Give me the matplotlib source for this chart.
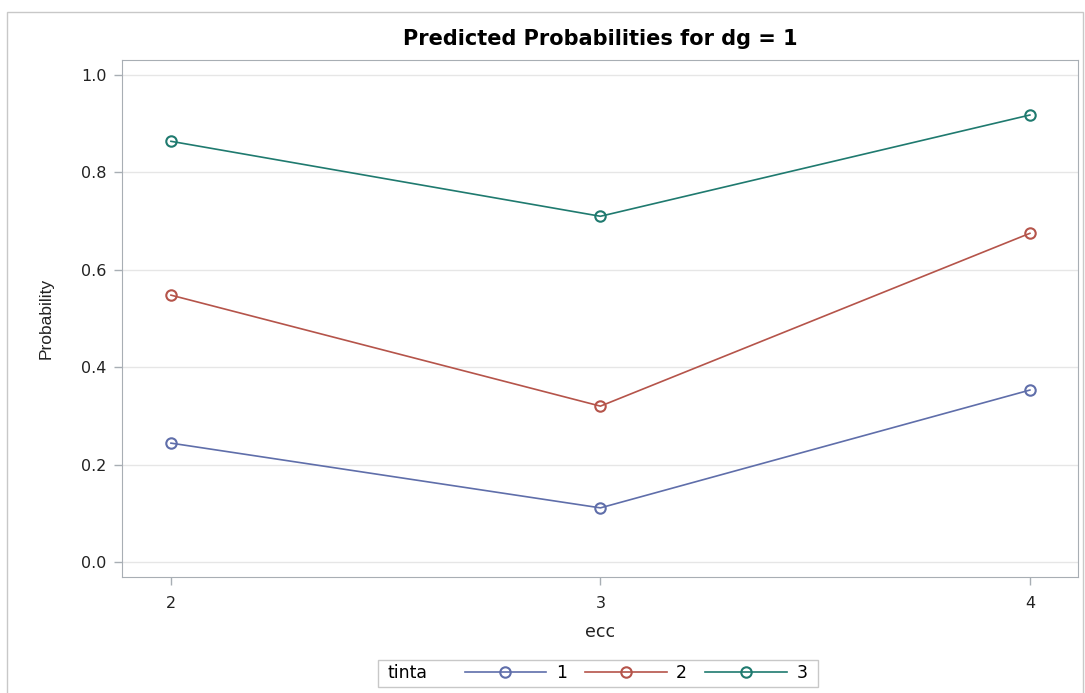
import matplotlib.pyplot as plt
from matplotlib.patches import Rectangle

plt.rcParams['font.family'] = ['DejaVu Sans']

# data
ecc = [2, 3, 4]
tinta_names = ['1', '2', '3']
prob_1 = [0.244, 0.111, 0.353]
prob_2 = [0.548, 0.320, 0.675]
prob_3 = [0.864, 0.710, 0.918]
colors = ['#5f6eaa', '#b5544a', '#1f7a6f']

W, H = 1085, 693
fig = plt.figure(figsize=(W / 100, H / 100), dpi=100)
ax = fig.add_axes([122 / W, 1 - 577 / H, (1078 - 122) / W, (577 - 60) / H])

series = [prob_1, prob_2, prob_3]
handles = []
for vals, c, name in zip(series, colors, tinta_names):
    h, = ax.plot(ecc, vals, color=c, lw=1.2, marker='o', ms=7.5,
                 mfc='none', mec=c, mew=1.5, label=name)
    handles.append(h)

ax.set_xlim(1.886, 4.112)
ax.set_ylim(-0.031, 1.031)
ax.set_xticks(ecc)
ax.set_yticks([0.0, 0.2, 0.4, 0.6, 0.8, 1.0])
ax.set_yticklabels(['0.0', '0.2', '0.4', '0.6', '0.8', '1.0'])
ax.yaxis.grid(True, color='#e6e6e6', lw=1)
ax.set_axisbelow(True)
for s in ax.spines.values():
    s.set_color('#a8aeb4')
ax.tick_params(colors='#a8aeb4', labelcolor='#222222', labelsize=11.5, length=6, width=1)
ax.tick_params(axis='x', pad=8)
ax.tick_params(axis='y', pad=5)

ax.set_xlabel('ecc', fontsize=12.5, color='#222222', labelpad=8)
ax.set_ylabel('Probability', fontsize=12.5, color='#222222', labelpad=20,
              family=['Liberation Sans'])
ax.set_title('Predicted Probabilities for dg = 1', fontsize=15, fontweight='bold', pad=11)

# legend: "tinta" label plus entries, drawn in a box at the bottom
leg = fig.legend(handles=handles, loc='center', bbox_to_anchor=(636 / W, 1 - 673 / H),
                 ncol=3, frameon=False, fontsize=12.5, handlelength=4.7,
                 handletextpad=0.55, columnspacing=1.05)
fig.text(388 / W, 1 - 673 / H, 'tinta', fontsize=12.5, va='center', ha='left')
fig.patches.append(Rectangle((378 / W, 1 - 687 / H), (818 - 378) / W, 27 / H,
                             transform=fig.transFigure, fill=False,
                             edgecolor='#c8c8c8', lw=1))
# outer frame
fig.patches.append(Rectangle((7 / W, -0.05), (1083 - 7) / W, 1.05 - 12 / H,
                             transform=fig.transFigure, fill=False,
                             edgecolor='#c8c8c8', lw=1))

fig.savefig('out.png', dpi=100)
